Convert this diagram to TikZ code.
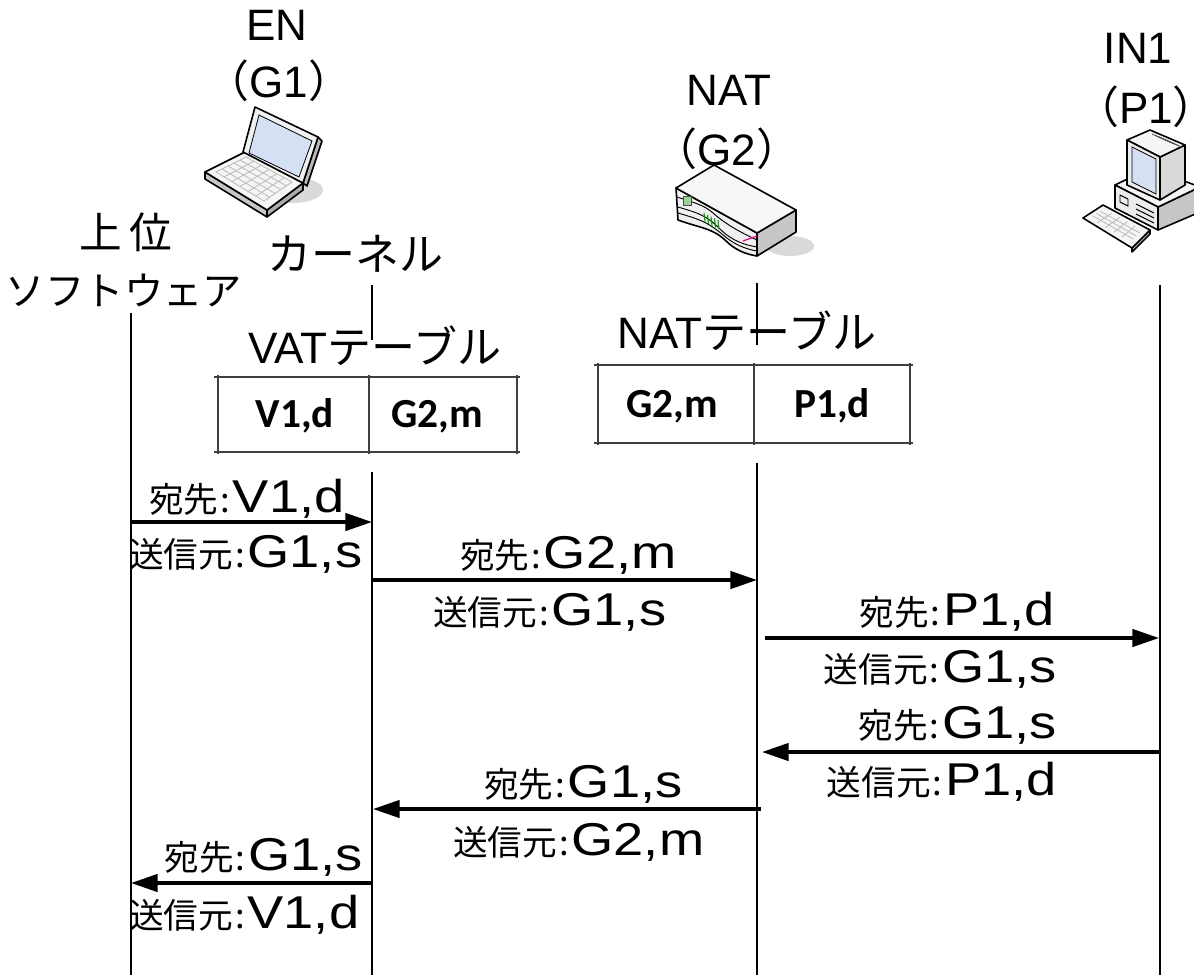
\documentclass[tikz,border=0pt]{standalone}
\usepackage{fontspec}
\setmainfont{Liberation Sans}
\newfontfamily\jp{Noto Sans CJK JP}
\newfontfamily\latw{Liberation Sans}[FakeStretch=1.18]
\newfontfamily\tblfont{Carlito}
\usetikzlibrary{arrows.meta,calc}
\newcommand\mylab[2]{{\jp\fontsize{26}{28}\selectfont #1\hspace{1.5pt}:\hspace{2pt}}{\latw\fontsize{34.5}{36}\selectfont #2}}
\newcommand\ttlfont{\fontsize{33}{35}\selectfont}
\tikzset{
  life/.style={line width=1.5pt},
  msg/.style={line width=2.6pt,-{Triangle[length=20pt,width=13pt]}},
  tblline/.style={line width=1.1pt,draw=black!75},
  ttl/.style={font=\ttlfont,inner sep=0pt,anchor=base},
  lbl/.style={inner sep=0pt},
  cell/.style={font=\tblfont\bfseries\fontsize{31}{33}\selectfont,inner sep=0pt,anchor=base},
  icon/.style={line width=1.2pt,line join=round},
}
\begin{document}
\begin{tikzpicture}[x=0.75pt,y=-0.75pt]
\useasboundingbox (0,0) rectangle (1194,975);
\clip (0,0) rectangle (1194,975);

% ---------- titles ----------
\node[ttl] (en) at (277,40) {EN};
\node[ttl] (g1) at (279,97) {{\jp （}G1{\jp ）}};
\node[ttl] (nat) at (729,105) {NAT};
\node[ttl] (g2) at (727,165) {{\jp （}G2{\jp ）}};
\node[ttl] (in1) at (1138,63) {IN1};
\node[ttl] (p1) at (1146,123) {{\jp （}P1{\jp ）}};
\node[ttl,font=\jp\fontsize{32}{34}\selectfont] (up1) at (126,248) {上\hspace{6pt}位};
\node[ttl,font=\jp\fontsize{29.5}{31}\selectfont] (up2) at (124,305) {ソフトウェア};
\node[ttl,font=\jp\fontsize{33}{35}\selectfont] (kern) at (355,270) {カーネル};
\node[ttl] (vatt) at (375,363) {VAT{\jp\fontsize{33}{35}\selectfont テーブル}};
\node[ttl] (natt) at (747,348) {NAT{\jp\fontsize{33}{35}\selectfont テーブル}};

% ---------- laptop (EN) ----------
\fill[gray!30] (293,190) ellipse [x radius=30, y radius=13];
\filldraw[icon,fill=gray!45] (205,172) -- (267,210) -- (267,217) -- (205,179) -- cycle;
\filldraw[icon,fill=gray!65] (267,210) -- (303,183) -- (303,190) -- (267,217) -- cycle;
\filldraw[icon,fill=gray!8] (205,172) -- (245,152) -- (303,183) -- (267,210) -- cycle;
\coordinate (k0) at (216,172); \coordinate (k1) at (246,157);
\coordinate (k2) at (292,182); \coordinate (k3) at (264,201);
\draw[gray!55,line width=0.6pt] (k0) -- (k1) -- (k2) -- (k3) -- cycle;
\foreach \t in {0.17,0.33,0.5,0.67,0.83}{
  \draw[gray!55,line width=0.6pt] ($(k0)!\t!(k3)$) -- ($(k1)!\t!(k2)$);}
\foreach \t in {0.2,0.4,0.6,0.8}{
  \draw[gray!55,line width=0.6pt] ($(k0)!\t!(k1)$) -- ($(k3)!\t!(k2)$);}
\filldraw[icon,fill=gray!55] (318,137) -- (322,141) -- (307,186) -- (303,183) -- cycle;
\filldraw[icon,fill=gray!12] (243,152) -- (255,107) -- (318,137) -- (303,183) -- cycle;
\filldraw[line width=0.6pt,fill={rgb,255:red,214;green,224;blue,245}] (259,115) -- (312,141) -- (299,177) -- (249,153) -- cycle;

% ---------- router (NAT) ----------
\fill[gray!30] (790,246) ellipse [x radius=24, y radius=10];
\filldraw[icon,fill=gray!45] (757,233) -- (796,210) -- (796,232) -- (757,256) -- cycle;
\filldraw[icon,fill=gray!12] (676,188) -- (757,233) -- (757,256)
   .. controls (745,254) and (735,250) .. (725,240)
   .. controls (712,228) and (700,228) .. (678,220) -- cycle;
\filldraw[icon,fill=gray!6] (676,188) -- (714,165) -- (796,210) -- (757,233) -- cycle;
\draw[line width=0.7pt] (678,207) .. controls (698,213) and (706,215) .. (720,229)
   .. controls (732,241) and (745,245) .. (757,247);
\draw[line width=0.7pt] (678,213) .. controls (698,219) and (706,221) .. (722,234)
   .. controls (733,244) and (745,249) .. (757,251);
\draw[line width=0.7pt] (677,197) .. controls (695,203) and (704,205) .. (713,213)
   .. controls (722,221) and (735,230) .. (757,240);
\filldraw[draw=black!70,fill=green!55!black!40,line width=0.6pt] (683,196) rectangle (691,205);
\foreach \i in {0,1,2,3,4}{
  \draw[green!60!black,line width=0.8pt] (704+3.5*\i,213+1.8*\i) -- (705+3.5*\i,222+1.8*\i);}
\draw[magenta,line width=0.9pt] (743,241) -- (757,236);

% ---------- PC (IN1) ----------
\filldraw[icon,fill=gray!45] (1158,207) -- (1200,187) -- (1200,212) -- (1158,230) -- cycle;
\filldraw[icon,fill=gray!8] (1115,185) -- (1150,168) -- (1200,187) -- (1158,207) -- cycle;
\filldraw[icon,fill=gray!15] (1115,185) -- (1158,207) -- (1158,230) -- (1115,208) -- cycle;
\draw[line width=0.7pt] (1120,195) -- (1128,199) -- (1128,206) -- (1120,202) -- cycle;
\draw[line width=0.7pt] (1136,204) -- (1154,213) (1136,209) -- (1154,218) (1136,214) -- (1154,223);
\filldraw[icon,fill=gray!30] (1160,157) -- (1185,145) -- (1185,185) -- (1160,200) -- cycle;
\filldraw[icon,fill=gray!8] (1127,140) -- (1150,130) -- (1185,145) -- (1160,157) -- cycle;
\foreach \i in {0,1,2,3,4}{
  \draw[gray!60!black,line width=0.6pt] (1152+3*\i,134+1.3*\i) -- (1170+3*\i,142+1.3*\i);}
\filldraw[icon,fill=gray!15] (1127,140) -- (1160,157) -- (1160,200) -- (1127,185) -- cycle;
\filldraw[line width=0.6pt,fill={rgb,255:red,214;green,224;blue,245}] (1132,147) -- (1156,159) -- (1156,194) -- (1132,182) -- cycle;
\filldraw[icon,fill=gray!45] (1132,248) -- (1150,230) -- (1150,234) -- (1132,252) -- cycle;
\filldraw[icon,fill=gray!8] (1083,218) -- (1103,205) -- (1150,230) -- (1132,248) -- cycle;
\coordinate (q0) at (1089,218); \coordinate (q1) at (1104,209);
\coordinate (q2) at (1143,230); \coordinate (q3) at (1130,242);
\foreach \t in {0.25,0.5,0.75}{
  \draw[gray!55,line width=0.6pt] ($(q0)!\t!(q1)$) -- ($(q3)!\t!(q2)$);}
\foreach \t in {0.2,0.4,0.6,0.8}{
  \draw[gray!55,line width=0.6pt] ($(q0)!\t!(q3)$) -- ($(q1)!\t!(q2)$);}

% ---------- tables ----------
\draw[tblline] (214,377) -- (520,377) (214,452) -- (520,452)
  (218,375) -- (218,454) (517,375) -- (517,454) (369,375) -- (369,454);
\node[cell] (c11) at (295,427) {V1,d};
\node[cell] (c12) at (437,427) {G2,m};
\draw[tblline] (594,365) -- (913,365) (594,443) -- (913,443)
  (598,363) -- (598,445) (910,363) -- (910,445) (754,363) -- (754,445);
\node[cell] (c21) at (672,417) {G2,m};
\node[cell] (c22) at (832,417) {P1,d};

% ---------- lifelines ----------
\coordinate (swT) at (131,313);  \coordinate (swB) at (131,975);
\coordinate (knT) at (372,285);  \coordinate (knM) at (372,340);
\coordinate (knU) at (372,472);  \coordinate (knB) at (372,975);
\coordinate (ntT) at (757,283);  \coordinate (ntM) at (757,345);
\coordinate (ntU) at (757,463);  \coordinate (ntB) at (757,975);
\coordinate (inT) at (1160,285); \coordinate (inB) at (1160,975);
\draw[life] (swT) -- (swB);
\draw[life] (knT) -- (knM);
\draw[life] (knU) -- (knB);
\draw[life] (ntT) -- (ntM);
\draw[life] (ntU) -- (ntB);
\draw[life] (inT) -- (inB);

% ---------- messages ----------
\coordinate (m1a) at (131,522);  \coordinate (m1b) at (372,522);
\coordinate (m2a) at (372,580);  \coordinate (m2b) at (757,580);
\coordinate (m3a) at (765,638);  \coordinate (m3b) at (1159,638);
\coordinate (m4a) at (1160,752); \coordinate (m4b) at (762,752);
\coordinate (m5a) at (761,809);  \coordinate (m5b) at (373,809);
\coordinate (m6a) at (373,883);  \coordinate (m6b) at (131,883);
\draw[msg] (m1a) -- (m1b);
\draw[msg] (m2a) -- (m2b);
\draw[msg] (m3a) -- (m3b);
\draw[msg] (m4a) -- (m4b);
\draw[msg] (m5a) -- (m5b);
\draw[msg] (m6a) -- (m6b);

\node[lbl,anchor=base west] (l1t) at (149,512) {\mylab{宛先}{V1,d}};
\node[lbl,anchor=base west] (l1b) at (129,567) {\mylab{送信元}{G1,s}};
\node[lbl,anchor=base west] (l2t) at (460,568) {\mylab{宛先}{G2,m}};
\node[lbl,anchor=base west] (l2b) at (433,625) {\mylab{送信元}{G1,s}};
\node[lbl,anchor=base east] (l3t) at (1055,625) {\mylab{宛先}{P1,d}};
\node[lbl,anchor=base east] (l3b) at (1057,682) {\mylab{送信元}{G1,s}};
\node[lbl,anchor=base east] (l4t) at (1057,738) {\mylab{宛先}{G1,s}};
\node[lbl,anchor=base east] (l4b) at (1057,795) {\mylab{送信元}{P1,d}};
\node[lbl,anchor=base west] (l5t) at (484,797) {\mylab{宛先}{G1,s}};
\node[lbl,anchor=base west] (l5b) at (453,855) {\mylab{送信元}{G2,m}};
\node[lbl,anchor=base east] (l6t) at (363,870) {\mylab{宛先}{G1,s}};
\node[lbl,anchor=base west] (l6b) at (129,928) {\mylab{送信元}{V1,d}};
\end{tikzpicture}
\end{document}
